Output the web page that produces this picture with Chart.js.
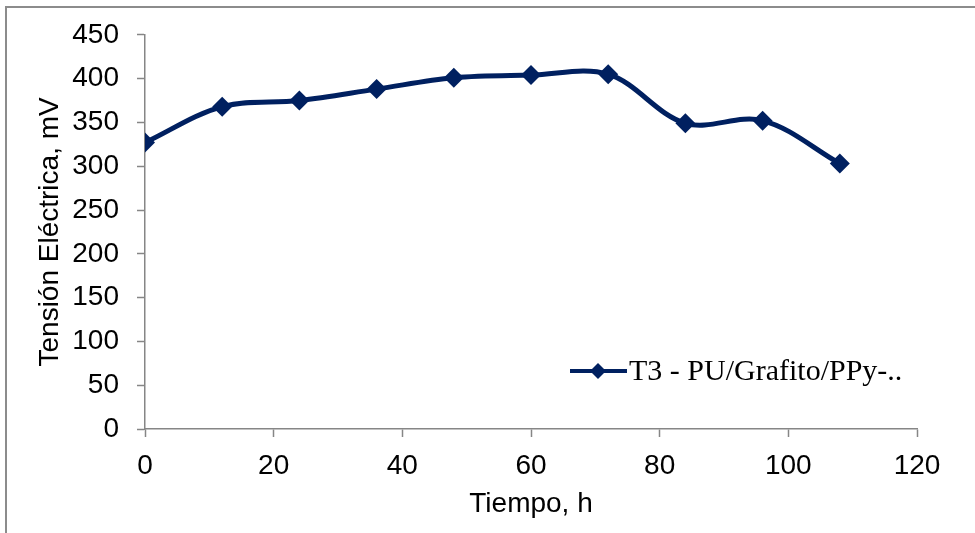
<!DOCTYPE html>
<html>
<head>
  <meta charset="utf-8">
  <title>Tensión Eléctrica vs Tiempo</title>
  <script src="https://cdn.jsdelivr.net/npm/chart.js"></script>
  <style>
    body { margin: 0; background: #fff; }
    #wrap { position: relative; width: 975px; height: 533px; }
    #marco { position: absolute; left: 5px; top: 6px; right: 0; bottom: 0;
             border-left: 2px solid #8c8c8c; border-top: 2px solid #8c8c8c; }
    #myChart { position: absolute; left: 0; top: 0; }
  </style>
</head>
<body>
  <div id="wrap">
    <div id="marco"></div>
    <canvas id="myChart" width="975" height="533"></canvas>
  </div>

  <script>
    // Datos
    var tiempo = [0, 12, 24, 36, 48, 60, 72, 84, 96, 108];
    var tension = [327, 368, 375, 388, 401, 404, 405, 349, 352, 303];
    var serieNombre = 'T3 - PU/Grafito/PPy-..';

    var azul = '#002060';
    var gris = '#868686';
    var fuenteEjes = 'Arial, "Liberation Sans", sans-serif';

    var puntos = tiempo.map(function (t, i) { return { x: t, y: tension[i] }; });

    // Leyenda dibujada dentro del area del grafico
    var leyenda = {
      id: 'leyenda',
      afterDraw: function (chart) {
        var c = chart.ctx;
        var y = 371;
        c.save();
        c.strokeStyle = azul;
        c.lineWidth = 4;
        c.beginPath();
        c.moveTo(570, y);
        c.lineTo(627, y);
        c.stroke();
        c.fillStyle = azul;
        Chart.helpers.drawPoint(c, { pointStyle: 'rectRot', radius: 8, borderWidth: 0 }, 598, y);
        c.font = '30px "Liberation Serif", "Times New Roman", serif';
        c.fillStyle = '#000';
        c.textBaseline = 'middle';
        c.fillText(chart.data.datasets[0].label, 629, y + 1);
        c.restore();
      }
    };

    var ctx = document.getElementById('myChart').getContext('2d');
    var myChart = new Chart(ctx, {
      type: 'line',
      data: {
        datasets: [{
          label: serieNombre,
          data: puntos,
          borderColor: azul,
          backgroundColor: azul,
          borderWidth: 5,
          tension: 0.35,
          pointStyle: 'rectRot',
          pointRadius: 10,
          pointBorderWidth: 0,
          pointBackgroundColor: azul
        }]
      },
      options: {
        responsive: false,
        animation: false,
        layout: { padding: { left: 0, right: 58, top: 34, bottom: 0 } },
        plugins: {
          legend: { display: false },
          tooltip: { enabled: false }
        },
        scales: {
          x: {
            type: 'linear',
            min: 0,
            max: 120,
            afterFit: function (s) { s.height = 104; },
            ticks: { stepSize: 20, color: '#000', padding: 12, font: { family: fuenteEjes, size: 28 } },
            grid: { drawOnChartArea: false, tickLength: 8, tickColor: gris, tickWidth: 1.5 },
            border: { color: gris, width: 1.5 },
            title: {
              display: true,
              text: 'Tiempo, h',
              color: '#000',
              font: { family: fuenteEjes, size: 28 },
              padding: { top: 0, bottom: 12 }
            }
          },
          y: {
            min: 0,
            max: 450,
            afterFit: function (s) { s.width = 145; },
            ticks: { stepSize: 50, color: '#000', padding: 18, font: { family: fuenteEjes, size: 28 } },
            grid: { drawOnChartArea: false, tickLength: 8, tickColor: gris, tickWidth: 1.5 },
            border: { color: gris, width: 1.5 },
            title: {
              display: true,
              text: 'Tensión Eléctrica, mV',
              color: '#000',
              font: { family: fuenteEjes, size: 28 },
              padding: { top: 33, bottom: 0 }
            }
          }
        }
      },
      plugins: [leyenda]
    });
  </script>
</body>
</html>
